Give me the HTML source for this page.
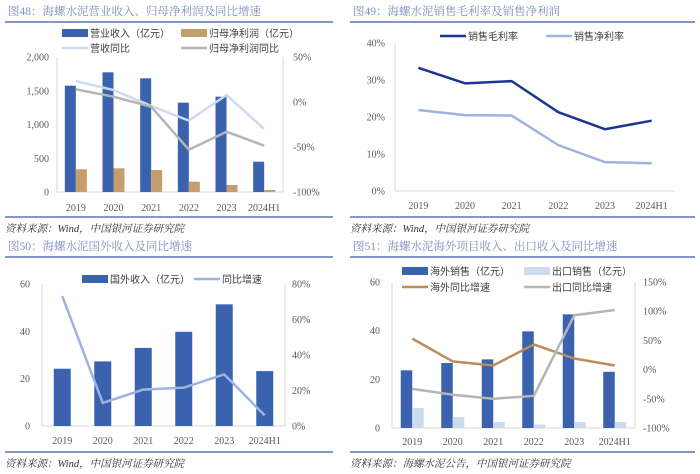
<!DOCTYPE html>
<html><head><meta charset="utf-8"><style>
html,body{margin:0;padding:0;background:#fff;}
svg{display:block;}
text{font-family:"Liberation Serif","Noto Serif CJK SC",serif;}
.cjk{font-family:"Liberation Sans","Noto Sans CJK SC",sans-serif;}
.serif{font-family:"Liberation Serif","Noto Serif CJK SC",serif;}
</style></head><body>
<svg id="c" width="700" height="474" viewBox="0 0 700 474" xmlns="http://www.w3.org/2000/svg"></svg>
<script>
const categories=["2019","2020","2021","2022","2023","2024H1"];
// Fig48
const revenue=[1575,1773,1684,1323,1412,449];
const netProfit=[336,351,326,153,104,30];
const revenueYoy=[23.3,13.3,-4.4,-20.7,7.8,-30];
const profitYoy=[14,5.9,-5.2,-53,-33,-48.5];
const fig48LeftTicks=[0,500,1000,1500,2000];
const fig48LeftLabels=["0","500","1,000","1,500","2,000"];
const fig48RightTicks=[-100,-50,0,50];
// Fig49
const grossMargin=[33.3,29.1,29.7,21.3,16.7,19.0];
const netMargin=[21.9,20.5,20.4,12.4,7.8,7.5];
const fig49Ticks=[0,10,20,30,40];
// Fig50
const foreignRevenue=[24.2,27.3,33,39.8,51.4,23.2];
const foreignYoy=[73.2,13,20.5,21.6,29.1,6];
const fig50LeftTicks=[0,20,40,60];
const fig50RightTicks=[0,20,40,60,80];
// Fig51
const overseasSales=[23.7,26.7,28.2,39.7,46.7,23.1];
const exportSales=[8.2,4.5,2.5,1.4,2.5,2.5];
const overseasYoy=[53,14,7,43,19,7];
const exportYoy=[-33,-43,-50,-45,93,102];
const fig51LeftTicks=[0,20,40,60];
const fig51RightTicks=[-100,-50,0,50,100,150];

const svg=document.getElementById('c');
const NS="http://www.w3.org/2000/svg";
function mk(tag,attrs,parent){const e=document.createElementNS(NS,tag);for(const k in attrs)e.setAttribute(k,attrs[k]);(parent||svg).appendChild(e);return e;}
function txt(x,y,s,attrs,parent){const t=mk('text',Object.assign({x:x,y:y,'font-size':10,fill:'#595959'},attrs||{}),parent);t.textContent=s;return t;}
function lin(a,b,c,d,col,w){return mk('line',{x1:a,y1:b,x2:c,y2:d,stroke:col,'stroke-width':w||1});}
function scale(d0,d1,r0,r1){return v=>r0+(v-d0)*(r1-r0)/(d1-d0);}

const BLUE='#3a62ae',TAN='#c49e6c',LBLUE='#cddbf1',GRAY='#b5b5b5',NAVY='#1c3590',PERI='#9db4e2',SEP='#5a77b0',AX='#d9d9d9';

function frame(x0,x1,titleY,sepY,botY,srcY,title,src,name){
  let t=txt(x0+3,titleY,title,{'font-size':11.5,fill:'#7d8fbe',class:'serif'});
  
  
  lin(x0,sepY,x1,sepY,SEP,1.6);
  lin(x0,botY,x1,botY,SEP,1.6);
  let s=txt(x0,srcY,src,{'font-size':10.5,fill:'#333','font-style':'italic',class:'serif'});
  
  
}
function axes(px0,px1,py0,py1,right){
  lin(px0,py0,px0,py1,AX);lin(px0,py1,px1,py1,AX);if(right)lin(px1,py0,px1,py1,AX);
}
function band(px0,px1,i){const w=(px1-px0)/6;return px0+w*(i+0.5);}
function catLabels(px0,px1,y,name){
  categories.forEach((c,i)=>{const t=txt(band(px0,px1,i),y,c,{'text-anchor':'middle','font-size':10});
    
    });
}
function yLabels(ticks,labels,sc,x,anchor,name){
  ticks.forEach((v,i)=>{const t=txt(x,sc(v)+3.5,labels[i],{'text-anchor':anchor,'font-size':10});
    
    });
}
function bars(vals,sc,px0,px1,off,w,col,name){
  vals.forEach((v,i)=>{const cx=band(px0,px1,i)+off;const r=mk('rect',{x:cx,y:sc(v),width:w,height:sc(0)-sc(v),fill:col});
    
    });
}
function line(vals,sc,px0,px1,col,w,name){
  const p=mk('polyline',{points:vals.map((v,i)=>band(px0,px1,i)+','+sc(v)).join(' '),fill:'none',stroke:col,'stroke-width':w,'stroke-linejoin':'round'});
  
  
}
function legend(x,y,type,col,label,name){
  if(type==='bar')mk('rect',{x:x,y:y-4,width:26,height:8,fill:col});
  else lin(x,y,x+26,y,col,2.5);
  const t=txt(x+28,y+4,label,{'font-size':10,fill:'#404040',class:'cjk'});
  
  
}

// ---------- Fig48 ----------
frame(5,333,15,22,217,232,'图48：海螺水泥营业收入、归母净利润及同比增速','资料来源：Wind，中国银河证券研究院','fig48');
{const px0=57,px1=283,py0=57,py1=192;
 const yl=scale(0,2000,py1,py0),yr=scale(-100,50,py1,py0);
 axes(px0,px1,py0,py1,true);
 yLabels(fig48LeftTicks,fig48LeftLabels,yl,49,'end','fig48-y-left-label');
 yLabels(fig48RightTicks,fig48RightTicks.map(v=>v+'%'),yr,293,'start','fig48-y-right-label');
 bars(revenue,yl,px0,px1,-11,11,BLUE,'fig48-revenue-bar');
 bars(netProfit,yl,px0,px1,0,11,TAN,'fig48-profit-bar');
 line(revenueYoy,yr,px0,px1,LBLUE,2.5,'fig48-revenue-yoy-line');
 line(profitYoy,yr,px0,px1,GRAY,2.5,'fig48-profit-yoy-line');
 catLabels(px0,px1,211,'fig48');
 legend(62,33,'bar',BLUE,'营业收入（亿元）','fig48-legend-revenue');
 legend(181,33,'bar',TAN,'归母净利润（亿元）','fig48-legend-profit');
 legend(62,48,'line',LBLUE,'营收同比','fig48-legend-revenue-yoy');
 legend(181,48,'line',GRAY,'归母净利润同比','fig48-legend-profit-yoy');
}
// ---------- Fig49 ----------
frame(350,695,15,22,217,232,'图49：海螺水泥销售毛利率及销售净利润','资料来源：Wind，中国银河证券研究院','fig49');
{const px0=395,px1=675,py0=43,py1=191;
 const y=scale(0,40,py1,py0);
 axes(px0,px1,py0,py1,false);
 yLabels(fig49Ticks,fig49Ticks.map(v=>v+'%'),y,385,'end','fig49-y-label');
 line(grossMargin,y,px0,px1,NAVY,2.5,'fig49-gross-margin-line');
 line(netMargin,y,px0,px1,PERI,2.5,'fig49-net-margin-line');
 catLabels(px0,px1,209,'fig49');
 legend(440,36,'line',NAVY,'销售毛利率','fig49-legend-gross');
 legend(546,36,'line',PERI,'销售净利率','fig49-legend-net');
}
// ---------- Fig50 ----------
frame(5,333,250,257,452,467,'图50：海螺水泥国外收入及同比增速','资料来源：Wind，中国银河证券研究院','fig50');
{const px0=42,px1=285,py0=284,py1=426;
 const yl=scale(0,60,py1,py0),yr=scale(0,80,py1,py0);
 axes(px0,px1,py0,py1,true);
 yLabels(fig50LeftTicks,fig50LeftTicks.map(String),yl,30,'end','fig50-y-left-label');
 yLabels(fig50RightTicks,fig50RightTicks.map(v=>v+'%'),yr,292,'start','fig50-y-right-label');
 bars(foreignRevenue,yl,px0,px1,-8.5,17,BLUE,'fig50-revenue-bar');
 line(foreignYoy,yr,px0,px1,PERI,2.5,'fig50-yoy-line');
 catLabels(px0,px1,444,'fig50');
 legend(82,279,'bar',BLUE,'国外收入（亿元）','fig50-legend-revenue');
 legend(194,279,'line',PERI,'同比增速','fig50-legend-yoy');
}
// ---------- Fig51 ----------
frame(350,695,250,257,452,467,'图51：海螺水泥海外项目收入、出口收入及同比增速','资料来源：海螺水泥公告，中国银河证券研究院','fig51');
{const px0=392,px1=635,py0=282,py1=428;
 const yl=scale(0,60,py1,py0),yr=scale(-100,150,py1,py0);
 axes(px0,px1,py0,py1,true);
 yLabels(fig51LeftTicks,fig51LeftTicks.map(String),yl,380,'end','fig51-y-left-label');
 yLabels(fig51RightTicks,fig51RightTicks.map(v=>v+'%'),yr,643,'start','fig51-y-right-label');
 bars(overseasSales,yl,px0,px1,-11.5,11.5,BLUE,'fig51-overseas-bar');
 bars(exportSales,yl,px0,px1,0,11.5,LBLUE,'fig51-export-bar');
 line(overseasYoy,yr,px0,px1,'#b98e5c',2.5,'fig51-overseas-yoy-line');
 line(exportYoy,yr,px0,px1,GRAY,2.5,'fig51-export-yoy-line');
 catLabels(px0,px1,445,'fig51');
 legend(402,271,'bar',BLUE,'海外销售（亿元）','fig51-legend-overseas');
 legend(524,271,'bar',LBLUE,'出口销售（亿元）','fig51-legend-export');
 legend(402,287,'line','#b98e5c','海外同比增速','fig51-legend-overseas-yoy');
 legend(524,287,'line',GRAY,'出口同比增速','fig51-legend-export-yoy');
}
</script>
</body></html>
